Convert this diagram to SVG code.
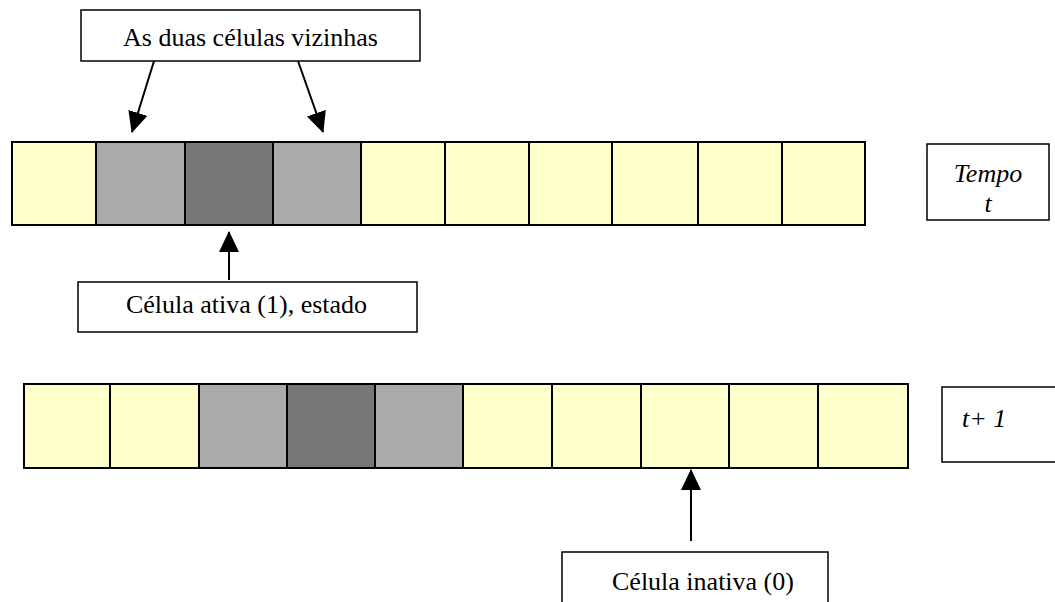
<svg xmlns="http://www.w3.org/2000/svg" width="1055" height="602" viewBox="0 0 1055 602">
<style>
.y{fill:#FFFFCC;stroke:#000;stroke-width:2}
.g{fill:#AAAAAA;stroke:#000;stroke-width:2}
.d{fill:#777777;stroke:#000;stroke-width:2}
.box{fill:#fff;stroke:#000;stroke-width:1.5}
.t{font-family:"Liberation Serif","Times New Roman",serif;font-size:26px;fill:#000}
.i{font-style:italic}
.c{stroke:#000;stroke-width:2;fill:none}
</style>
<defs>
<marker id="ah" markerUnits="userSpaceOnUse" markerWidth="22" markerHeight="22" viewBox="0 0 22 22" refX="20" refY="11" orient="auto">
<path d="M0,1 L21,11 L0,21 Z" fill="#000"/>
</marker>
</defs>
<rect width="1055" height="602" fill="#fff"/>
<g id="row-t">
<rect class="y" x="12" y="142" width="84" height="83"/>
<rect class="g" x="96" y="142" width="89" height="83"/>
<rect class="d" x="185" y="142" width="88" height="83"/>
<rect class="g" x="273" y="142" width="88" height="83"/>
<rect class="y" x="361" y="142" width="84" height="83"/>
<rect class="y" x="445" y="142" width="84" height="83"/>
<rect class="y" x="529" y="142" width="83" height="83"/>
<rect class="y" x="612" y="142" width="86" height="83"/>
<rect class="y" x="698" y="142" width="84" height="83"/>
<rect class="y" x="782" y="142" width="83" height="83"/>
</g>
<g id="row-t1">
<rect class="y" x="24" y="384" width="86" height="84"/>
<rect class="y" x="110" y="384" width="89" height="84"/>
<rect class="g" x="199" y="384" width="88" height="84"/>
<rect class="d" x="287" y="384" width="88" height="84"/>
<rect class="g" x="375" y="384" width="88" height="84"/>
<rect class="y" x="463" y="384" width="89" height="84"/>
<rect class="y" x="552" y="384" width="89" height="84"/>
<rect class="y" x="641" y="384" width="88" height="84"/>
<rect class="y" x="729" y="384" width="89" height="84"/>
<rect class="y" x="818" y="384" width="90" height="84"/>
</g>
<g id="label-vizinhas">
<rect class="box" x="81" y="10" width="339" height="51"/>
<text class="t" x="250.5" y="46" text-anchor="middle">As duas células vizinhas</text>
</g>
<g id="label-ativa">
<rect class="box" x="78" y="282" width="339" height="50"/>
<text class="t" x="246.5" y="313" text-anchor="middle">Célula ativa (1), estado</text>
</g>
<g id="label-inativa">
<rect class="box" x="562" y="552" width="266" height="60"/>
<text class="t" x="612" y="590">Célula inativa (0)</text>
</g>
<g id="label-tempo">
<rect class="box" x="927" y="144" width="122" height="76"/>
<text class="t i" x="988" y="182" text-anchor="middle">Tempo</text>
<text class="t i" x="988" y="212" text-anchor="middle">t</text>
</g>
<g id="label-t1">
<rect class="box" x="942" y="387" width="125" height="75"/>
<text class="t i" x="962" y="427">t+ 1</text>
</g>
<g id="connectors">
<line class="c" x1="154" y1="61" x2="132" y2="132" marker-end="url(#ah)"/>
<line class="c" x1="298" y1="61" x2="323" y2="132" marker-end="url(#ah)"/>
<line class="c" x1="229" y1="280" x2="229" y2="232" marker-end="url(#ah)"/>
<line class="c" x1="691" y1="541" x2="691" y2="470" marker-end="url(#ah)"/>
</g>
</svg>
